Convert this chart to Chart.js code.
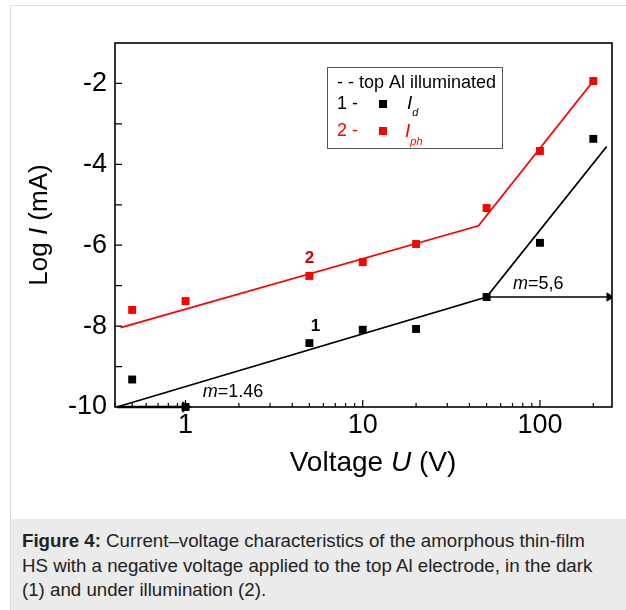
<!DOCTYPE html>
<html>
<head>
<meta charset="utf-8">
<title>Figure 4</title>
<script src="https://cdn.jsdelivr.net/npm/chart.js@4.4.0/dist/chart.umd.min.js"></script>
<style>
  body { margin: 0; background: #fff; font-family: "Liberation Sans", Arial, sans-serif; }
  #frame { position: absolute; left: 10px; top: 5px; width: 700px; height: 700px; border-left: 1px solid #ddd; border-top: 1px solid #ddd; }
  #chartBox { position: absolute; left: 0; top: 0; width: 626px; height: 519px; }
  #caption { position: absolute; left: 11px; top: 519px; width: 615px; height: 91px; background: #ebebeb; color: #222;
    font-size: 18.7px; line-height: 24.5px; padding: 10px 0 0 11px; box-sizing: border-box; white-space: nowrap; }
</style>
</head>
<body>
<div id="frame"></div>
<div id="chartBox"><canvas id="myChart" width="626" height="519"></canvas></div>
<div id="caption"><b>Figure 4:</b> Current–voltage characteristics of the amorphous thin-film<br>HS with a negative voltage applied to the top Al electrode, in the dark<br>(1) and under illumination (2).</div>
<script>
// measured points (voltage in V, log of current)
let voltage = [0.5, 1, 5, 10, 20, 50, 100, 200];
let darkLog = [-9.32, -10, -8.42, -8.09, -8.07, -7.28, -5.94, -3.37];
let lightLog = [-7.6, -7.38, -6.76, -6.42, -5.97, -5.08, -3.67, -1.94];

// fitted lines
let darkFitU = [0.41, 50, 238];
let darkFitLog = [-10, -7.28, -3.56];
let lightFitU = [0.43, 45, 200];
let lightFitLog = [-8.04, -5.52, -1.94];

// the two slope arrows
let lowArrowU = [0.41, 1];
let lowArrowLog = [-10, -10];
let highArrowU = [50, 246];
let highArrowLog = [-7.28, -7.28];

let xTickValues = [1, 10, 100];
let yTickValues = [-10, -8, -6, -4, -2];

function toPoints(xs, ys) {
  let pts = [];
  for (let i = 0; i < xs.length; i++) {
    pts.push({ x: xs[i], y: ys[i] });
  }
  return pts;
}

// draw a row of text pieces with different fonts
function drawRuns(ctx, runs, x, y, align) {
  let total = 0;
  for (let r of runs) {
    ctx.font = r.font;
    total += ctx.measureText(r.t).width;
  }
  let cx = x;
  if (align === 'center') cx = x - total / 2;
  ctx.textAlign = 'left';
  ctx.textBaseline = 'middle';
  for (let r of runs) {
    ctx.font = r.font;
    ctx.fillStyle = r.color || '#000';
    ctx.fillText(r.t, cx, y + (r.dy || 0));
    cx += ctx.measureText(r.t).width;
  }
}

const FONT = '"Liberation Sans", Arial, sans-serif';

const decor = {
  id: 'decor',
  afterDraw(chart) {
    const ctx = chart.ctx;
    const a = chart.chartArea;
    const xs = chart.scales.x;
    const ys = chart.scales.y;
    ctx.save();

    // plot frame
    ctx.strokeStyle = '#000';
    ctx.lineWidth = 1.6;
    ctx.strokeRect(a.left, a.top, a.right - a.left, a.bottom - a.top);

    // inward ticks on left axis
    ctx.lineWidth = 1.2;
    ctx.beginPath();
    for (let v = -9; v <= -2; v++) {
      let py = ys.getPixelForValue(v);
      ctx.moveTo(a.left, py);
      ctx.lineTo(a.left + 7, py);
    }
    // inward ticks on bottom axis
    for (let d of [0.1, 1, 10, 100]) {
      for (let k = 1; k <= 9; k++) {
        let v = d * k;
        if (v < xs.min || v > xs.max) continue;
        let px = xs.getPixelForValue(v);
        let len = k === 1 ? 7 : 4;
        ctx.moveTo(px, a.bottom);
        ctx.lineTo(px, a.bottom - len);
      }
    }
    ctx.stroke();

    // axis titles
    drawRuns(ctx, [
      { t: 'Voltage ', font: '28px ' + FONT },
      { t: 'U', font: 'italic 28px ' + FONT },
      { t: ' (V)', font: '28px ' + FONT }
    ], 373, 463, 'center');

    ctx.save();
    ctx.translate(40, (a.top + a.bottom) / 2);
    ctx.rotate(-Math.PI / 2);
    drawRuns(ctx, [
      { t: 'Log ', font: '26px ' + FONT },
      { t: 'I', font: 'italic 26px ' + FONT },
      { t: ' (mA)', font: '26px ' + FONT }
    ], 0, 0, 'center');
    ctx.restore();

    // legend box
    ctx.strokeStyle = '#555';
    ctx.lineWidth = 1;
    ctx.strokeRect(327.5, 67.5, 175, 81);
    drawRuns(ctx, [{ t: '- - top Al illuminated', font: '18px ' + FONT }], 337, 83, 'left');
    drawRuns(ctx, [{ t: '1 -', font: '18px ' + FONT }], 337, 104, 'left');
    ctx.fillStyle = '#000';
    ctx.fillRect(379, 100, 8, 8);
    drawRuns(ctx, [
      { t: 'I', font: 'italic 19px ' + FONT },
      { t: 'd', font: 'italic 11px ' + FONT, dy: 9 }
    ], 407, 104, 'left');
    drawRuns(ctx, [{ t: '2 -', font: '18px ' + FONT, color: '#ff0000' }], 337, 131, 'left');
    ctx.fillStyle = '#ff0000';
    ctx.fillRect(379, 127, 8, 8);
    drawRuns(ctx, [
      { t: 'I', font: 'italic 19px ' + FONT, color: '#ff0000' },
      { t: 'ph', font: 'italic 11px ' + FONT, color: '#ff0000', dy: 10 }
    ], 405, 132, 'left');

    // curve numbers and slopes
    drawRuns(ctx, [{ t: '2', font: 'bold 17px ' + FONT, color: '#d00000' }],
      xs.getPixelForValue(5), ys.getPixelForValue(-6.32), 'center');
    drawRuns(ctx, [{ t: '1', font: 'bold 17px ' + FONT }],
      xs.getPixelForValue(5.42), ys.getPixelForValue(-8.0), 'center');
    drawRuns(ctx, [
      { t: 'm', font: 'italic 18px ' + FONT },
      { t: '=1.46', font: '18px ' + FONT }
    ], xs.getPixelForValue(1.25), ys.getPixelForValue(-9.63), 'left');
    drawRuns(ctx, [
      { t: 'm', font: 'italic 18px ' + FONT },
      { t: '=5,6', font: '18px ' + FONT }
    ], xs.getPixelForValue(70.4), ys.getPixelForValue(-6.96), 'left');

    ctx.restore();
  }
};

const config = {
  type: 'scatter',
  data: {
    datasets: [
      {
        label: 'Id',
        data: toPoints(voltage, darkLog),
        pointStyle: 'rect',
        pointRadius: 5.6,
        borderWidth: 0,
        backgroundColor: '#000',
        clip: false
      },
      {
        label: 'Iph',
        data: toPoints(voltage, lightLog),
        pointStyle: 'rect',
        pointRadius: 5.6,
        borderWidth: 0,
        backgroundColor: '#ff0000',
        clip: false
      },
      {
        label: 'dark fit',
        data: toPoints(darkFitU, darkFitLog),
        showLine: true,
        pointRadius: 0,
        borderColor: '#000',
        borderWidth: 1.8,
        clip: false
      },
      {
        label: 'light fit',
        data: toPoints(lightFitU, lightFitLog),
        showLine: true,
        pointRadius: 0,
        borderColor: '#ff0000',
        borderWidth: 1.8
      },
      {
        label: 'low arrow',
        data: toPoints(lowArrowU, lowArrowLog),
        showLine: true,
        borderColor: '#000',
        borderWidth: 2.5,
        pointRadius: [0, 4],
        pointStyle: 'triangle',
        rotation: 90,
        backgroundColor: '#000',
        clip: false
      },
      {
        label: 'high arrow',
        data: toPoints(highArrowU, highArrowLog),
        showLine: true,
        borderColor: '#000',
        borderWidth: 1.5,
        pointRadius: [0, 4],
        pointStyle: 'triangle',
        rotation: 90,
        backgroundColor: '#000'
      }
    ]
  },
  options: {
    responsive: false,
    animation: false,
    events: [],
    layout: { padding: { top: 43, right: 14, left: 0, bottom: 0 } },
    plugins: {
      legend: { display: false },
      tooltip: { enabled: false }
    },
    scales: {
      x: {
        type: 'logarithmic',
        min: 0.4,
        max: 255,
        grid: { display: false, drawTicks: false },
        border: { display: false },
        afterBuildTicks: (scale) => { scale.ticks = xTickValues.map(v => ({ value: v })); },
        afterFit: (scale) => { scale.height = 112; },
        ticks: {
          color: '#000',
          padding: 2,
          maxRotation: 0,
          autoSkip: false,
          font: { family: FONT, size: 27 },
          callback: (v) => String(v)
        }
      },
      y: {
        min: -10,
        max: -1,
        grid: { display: false, drawTicks: false },
        border: { display: false },
        afterBuildTicks: (scale) => { scale.ticks = yTickValues.map(v => ({ value: v })); },
        afterFit: (scale) => { scale.width = 115; },
        ticks: {
          color: '#000',
          padding: 8,
          autoSkip: false,
          font: { family: FONT, size: 27 },
          callback: (v) => String(v)
        }
      }
    }
  },
  plugins: [decor]
};

let canvasChart = document.getElementById('myChart');
let chart = new Chart(canvasChart, config);
</script>
</body>
</html>
